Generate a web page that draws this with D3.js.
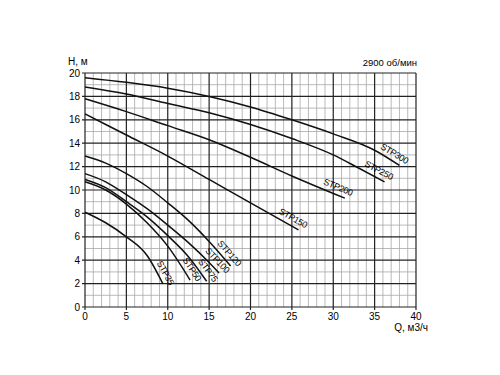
<!DOCTYPE html>
<html>
<head>
<meta charset="utf-8">
<script src="https://cdn.jsdelivr.net/npm/d3@7/dist/d3.min.js"></script>
<style>
  body { margin: 0; background: #fff; }
  svg { font-family: "Liberation Sans", Arial, sans-serif; }
</style>
</head>
<body>
<script>
// pump curves, Q (m3/h) and H (m)
var q35  = [0, 2.5, 5, 7.5, 9.4];
var h35  = [8.1, 7.2, 6.0, 4.4, 2.0];
var q50  = [0, 2.5, 5, 7.5, 10, 12.7];
var h50  = [10.7, 10.0, 8.8, 7.2, 5.2, 2.3];
var q75  = [0, 2.5, 5, 7.5, 10, 12.5, 14.7];
var h75  = [10.9, 10.2, 9.0, 7.7, 6.1, 4.3, 2.2];
var q100 = [0, 2.5, 5, 7.5, 10, 12.5, 15, 16.2];
var h100 = [11.4, 10.7, 9.6, 8.4, 7.0, 5.5, 3.8, 2.9];
var q120 = [0, 2.5, 5, 7.5, 10, 12.5, 15, 17.6];
var h120 = [12.9, 12.3, 11.4, 10.3, 8.9, 7.4, 5.6, 3.5];
var q150 = [0, 5, 10, 15, 20, 25.8];
var h150 = [16.5, 14.7, 12.9, 10.9, 8.9, 6.6];
var q200 = [0, 5, 10, 15, 20, 25, 31.4];
var h200 = [17.8, 16.7, 15.5, 14.3, 12.8, 11.2, 9.3];
var q250 = [0, 5, 10, 15, 20, 25, 30, 33, 36.2];
var h250 = [18.8, 18.2, 17.4, 16.6, 15.6, 14.4, 13.0, 11.9, 10.7];
var q300 = [0, 5, 10, 15, 20, 25, 30, 35, 38];
var h300 = [19.6, 19.2, 18.7, 18.0, 17.1, 16.0, 14.8, 13.4, 12.1];

var names = ['STP35', 'STP50', 'STP75', 'STP100', 'STP120', 'STP150', 'STP200', 'STP250', 'STP300'];
var flows = [q35, q50, q75, q100, q120, q150, q200, q250, q300];
var heads = [h35, h50, h75, h100, h120, h150, h200, h250, h300];

var xTicks = [0, 5, 10, 15, 20, 25, 30, 35, 40];
var yTicks = [0, 2, 4, 6, 8, 10, 12, 14, 16, 18, 20];

var W = 500, H = 375;
var svg = d3.select('body').append('svg')
  .attr('width', W)
  .attr('height', H);

var x = d3.scaleLinear().domain([0, 40]).range([85, 416]);
var y = d3.scaleLinear().domain([0, 20]).range([307, 73]);

// minor grid
svg.append('g').selectAll('line').data(d3.range(0, 41).filter(function(d) { return d % 5; }))
  .enter().append('line')
    .attr('x1', function(d) { return x(d); }).attr('x2', function(d) { return x(d); })
    .attr('y1', y(0)).attr('y2', y(20))
    .attr('stroke', '#a8a8a8').attr('stroke-width', 0.8);
svg.append('g').selectAll('line').data(d3.range(1, 20, 2))
  .enter().append('line')
    .attr('x1', x(0)).attr('x2', x(40))
    .attr('y1', function(d) { return y(d); }).attr('y2', function(d) { return y(d); })
    .attr('stroke', '#a8a8a8').attr('stroke-width', 0.8);

// major grid
svg.append('g').selectAll('line').data(xTicks)
  .enter().append('line')
    .attr('x1', function(d) { return x(d); }).attr('x2', function(d) { return x(d); })
    .attr('y1', y(0) + 3).attr('y2', y(20))
    .attr('stroke', '#222').attr('stroke-width', 1.2);
svg.append('g').selectAll('line').data(yTicks)
  .enter().append('line')
    .attr('x1', x(0) - 3).attr('x2', x(40))
    .attr('y1', function(d) { return y(d); }).attr('y2', function(d) { return y(d); })
    .attr('stroke', '#222').attr('stroke-width', 1.2);

// tick labels
svg.append('g').selectAll('text').data(xTicks)
  .enter().append('text')
    .attr('x', function(d) { return x(d); })
    .attr('y', y(0) + 13)
    .attr('text-anchor', 'middle')
    .attr('font-size', 10)
    .text(function(d) { return d; });
svg.append('g').selectAll('text').data(yTicks)
  .enter().append('text')
    .attr('x', x(0) - 5)
    .attr('y', function(d) { return y(d) + 3.5; })
    .attr('text-anchor', 'end')
    .attr('font-size', 10)
    .text(function(d) { return d; });

svg.append('text').attr('x', 68).attr('y', 65).attr('font-size', 10).text('H, м');
svg.append('text').attr('x', 428).attr('y', 331).attr('font-size', 10)
  .attr('text-anchor', 'end').text('Q, м3/ч');
svg.append('text').attr('x', 417).attr('y', 66).attr('font-size', 9.5)
  .attr('text-anchor', 'end').text('2900 об/мин');

// curves
var line = d3.line()
  .x(function(d) { return x(d[0]); })
  .y(function(d) { return y(d[1]); })
  .curve(d3.curveMonotoneX);

names.forEach(function(name, i) {
  var pts = d3.zip(flows[i], heads[i]);
  svg.append('path')
    .attr('d', line(pts))
    .attr('fill', 'none')
    .attr('stroke', '#111')
    .attr('stroke-width', 1.5);

  // label runs along the last segment, just above the line end
  var a = pts[pts.length - 2], b = pts[pts.length - 1];
  var ang = Math.atan2(y(b[1]) - y(a[1]), x(b[0]) - x(a[0])) * 180 / Math.PI;
  svg.append('text')
    .attr('transform', 'translate(' + x(b[0]) + ',' + y(b[1]) + ') rotate(' + ang + ') translate(5,-4.5)')
    .attr('text-anchor', 'end')
    .attr('font-size', 9)
    .attr('letter-spacing', -0.3)
    .text(name);
});
</script>
</body>
</html>
